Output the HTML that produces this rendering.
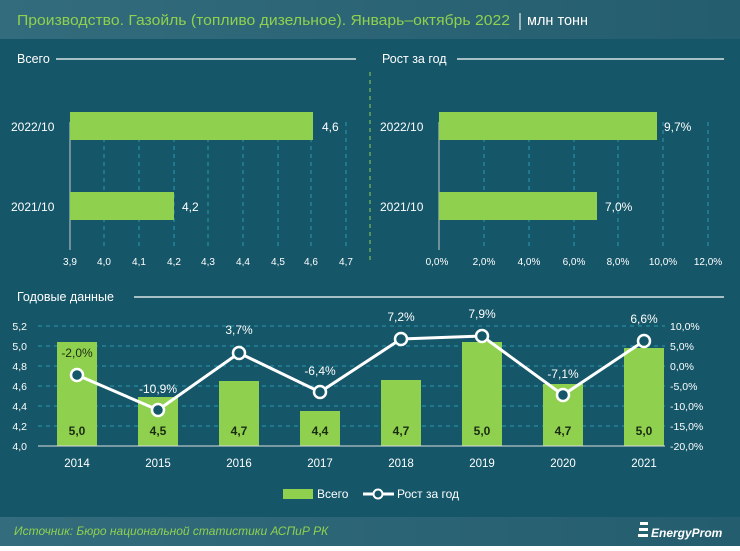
<!DOCTYPE html><html><head><meta charset="utf-8"><style>
body{margin:0;width:740px;height:546px;overflow:hidden;font-family:"Liberation Sans",sans-serif;}
</style></head><body>
<svg width="740" height="546" viewBox="0 0 740 546" xmlns="http://www.w3.org/2000/svg" font-family="Liberation Sans, sans-serif">
<defs><linearGradient id="h" x1="0" x2="1"><stop offset="0" stop-color="#336c7c"/><stop offset="1" stop-color="#245d6e"/></linearGradient></defs>
<rect width="740" height="546" fill="#155668"/>
<rect width="740" height="39" fill="url(#h)"/>
<text x="17" y="25" font-size="14.5" fill="#8fd14f" textLength="493" lengthAdjust="spacingAndGlyphs">Производство. Газойль (топливо дизельное). Январь–октябрь 2022</text>
<line x1="520" y1="13" x2="520" y2="30" stroke="#fff" stroke-width="1"/>
<text x="527" y="25" font-size="14.5" fill="#fff">млн тонн</text>
<text x="17" y="63" font-size="12.5" fill="#fff">Всего</text>
<line x1="56" y1="59" x2="356" y2="59" stroke="#fff" stroke-width="1.2"/>
<text x="382" y="63" font-size="12.5" fill="#fff">Рост за год</text>
<line x1="457" y1="59" x2="724" y2="59" stroke="#fff" stroke-width="1.2"/>
<line x1="370" y1="72" x2="370" y2="262" stroke="#8fd14f" stroke-dasharray="4,4"/>
<g stroke="#2a9ab5" stroke-dasharray="4,4">
<line x1="104" y1="122" x2="104" y2="250"/><line x1="139" y1="122" x2="139" y2="250"/><line x1="174" y1="122" x2="174" y2="250"/><line x1="208" y1="122" x2="208" y2="250"/><line x1="243" y1="122" x2="243" y2="250"/><line x1="278" y1="122" x2="278" y2="250"/><line x1="311" y1="122" x2="311" y2="250"/><line x1="346" y1="122" x2="346" y2="250"/>
<line x1="484" y1="122" x2="484" y2="250"/><line x1="529" y1="122" x2="529" y2="250"/><line x1="574" y1="122" x2="574" y2="250"/><line x1="618" y1="122" x2="618" y2="250"/><line x1="663" y1="122" x2="663" y2="250"/><line x1="708" y1="122" x2="708" y2="250"/>
</g>
<line x1="70" y1="122" x2="70" y2="250" stroke="#ccc"/>
<line x1="439" y1="122" x2="439" y2="250" stroke="#ccc"/>
<rect x="70" y="112" width="243" height="28" fill="#8fd14f"/>
<rect x="70" y="192" width="104" height="28" fill="#8fd14f"/>
<rect x="439" y="112" width="218" height="28" fill="#8fd14f"/>
<rect x="439" y="192" width="158" height="28" fill="#8fd14f"/>
<g font-size="12" fill="#fff">
<text x="11" y="131">2022/10</text><text x="11" y="211">2021/10</text>
<text x="380" y="131">2022/10</text><text x="380" y="211">2021/10</text>
<text x="322" y="131">4,6</text><text x="182" y="211">4,2</text>
<text x="664" y="131">9,7%</text><text x="605" y="211">7,0%</text>
</g>
<g font-size="10" fill="#fff" text-anchor="middle">
<text x="70" y="265">3,9</text><text x="104" y="265">4,0</text><text x="139" y="265">4,1</text><text x="174" y="265">4,2</text><text x="208" y="265">4,3</text><text x="243" y="265">4,4</text><text x="278" y="265">4,5</text><text x="311" y="265">4,6</text><text x="346" y="265">4,7</text>
<text x="437" y="265">0,0%</text><text x="484" y="265">2,0%</text><text x="529" y="265">4,0%</text><text x="574" y="265">6,0%</text><text x="618" y="265">8,0%</text><text x="663" y="265">10,0%</text><text x="708" y="265">12,0%</text>
</g>
<text x="17" y="301" font-size="12.5" fill="#fff">Годовые данные</text>
<line x1="134" y1="297" x2="724" y2="297" stroke="#fff" stroke-width="1.2"/>
<g stroke="#2a9ab5" stroke-dasharray="4,4">
<line x1="38" y1="326" x2="665" y2="326"/><line x1="38" y1="346" x2="665" y2="346"/><line x1="38" y1="366" x2="665" y2="366"/><line x1="38" y1="386" x2="665" y2="386"/><line x1="38" y1="406" x2="665" y2="406"/><line x1="38" y1="426" x2="665" y2="426"/>
</g>
<g fill="#8fd14f">
<rect x="57" y="342" width="40" height="104"/><rect x="138" y="397" width="40" height="49"/><rect x="219" y="381" width="40" height="65"/><rect x="300" y="411" width="40" height="35"/><rect x="381" y="380" width="40" height="66"/><rect x="462" y="342" width="40" height="104"/><rect x="543" y="384" width="40" height="62"/><rect x="624" y="348" width="40" height="98"/>
</g>
<line x1="38" y1="446" x2="665" y2="446" stroke="#ddd"/>
<g font-size="12" font-weight="bold" fill="#1a2a10" text-anchor="middle">
<text x="77" y="435">5,0</text><text x="158" y="435">4,5</text><text x="239" y="435">4,7</text><text x="320" y="435">4,4</text><text x="401" y="435">4,7</text><text x="482" y="435">5,0</text><text x="563" y="435">4,7</text><text x="644" y="435">5,0</text>
</g>
<g font-size="10.5" fill="#fff" text-anchor="end">
<text x="27" y="330">5,2</text><text x="27" y="350">5,0</text><text x="27" y="370">4,8</text><text x="27" y="390">4,6</text><text x="27" y="410">4,4</text><text x="27" y="430">4,2</text><text x="27" y="450">4,0</text>
</g>
<g font-size="10.5" fill="#fff">
<text x="670" y="330">10,0%</text><text x="670" y="350">5,0%</text><text x="670" y="370">0,0%</text><text x="670" y="390">-5,0%</text><text x="670" y="410">-10,0%</text><text x="670" y="430">-15,0%</text><text x="670" y="450">-20,0%</text>
</g>
<g font-size="11.5" fill="#fff" text-anchor="middle">
<text x="77" y="467">2014</text><text x="158" y="467">2015</text><text x="239" y="467">2016</text><text x="320" y="467">2017</text><text x="401" y="467">2018</text><text x="482" y="467">2019</text><text x="563" y="467">2020</text><text x="644" y="467">2021</text>
</g>
<polyline points="77,375 158,410 239,353 320,392 401,339 482,336 563,395 644,341" fill="none" stroke="#fff" stroke-width="3"/>
<g fill="#155668" stroke="#fff" stroke-width="2.5">
<circle cx="77" cy="375" r="6"/><circle cx="158" cy="410" r="6"/><circle cx="239" cy="353" r="6"/><circle cx="320" cy="392" r="6"/><circle cx="401" cy="339" r="6"/><circle cx="482" cy="336" r="6"/><circle cx="563" cy="395" r="6"/><circle cx="644" cy="341" r="6"/>
</g>
<g font-size="12" text-anchor="middle">
<text x="77" y="357" fill="#1a2a10">-2,0%</text><text x="158" y="393" fill="#fff">-10,9%</text><text x="239" y="334" fill="#fff">3,7%</text><text x="320" y="375" fill="#fff">-6,4%</text><text x="401" y="321" fill="#fff">7,2%</text><text x="482" y="318" fill="#fff">7,9%</text><text x="563" y="378" fill="#fff">-7,1%</text><text x="644" y="323" fill="#fff">6,6%</text>
</g>
<rect x="283" y="489" width="30" height="10" fill="#8fd14f"/>
<text x="317" y="498" font-size="12" fill="#fff">Всего</text>
<line x1="363" y1="494" x2="394" y2="494" stroke="#fff" stroke-width="3"/>
<circle cx="378" cy="494" r="4.5" fill="#155668" stroke="#fff" stroke-width="2"/>
<text x="397" y="498" font-size="12" fill="#fff">Рост за год</text>
<rect y="517" width="740" height="29" fill="url(#h)"/>
<text x="14" y="535" font-size="12" font-style="italic" fill="#8fd14f">Источник: Бюро национальной статистики АСПиР РК</text>
<g fill="#fff"><rect x="640" y="522" width="8" height="3"/><rect x="639" y="528" width="9" height="3"/><rect x="638" y="534" width="10" height="3"/></g>
<text x="651" y="537" font-size="12" font-style="italic" font-weight="bold" fill="#fff">EnergyProm</text>
</svg></body></html>
